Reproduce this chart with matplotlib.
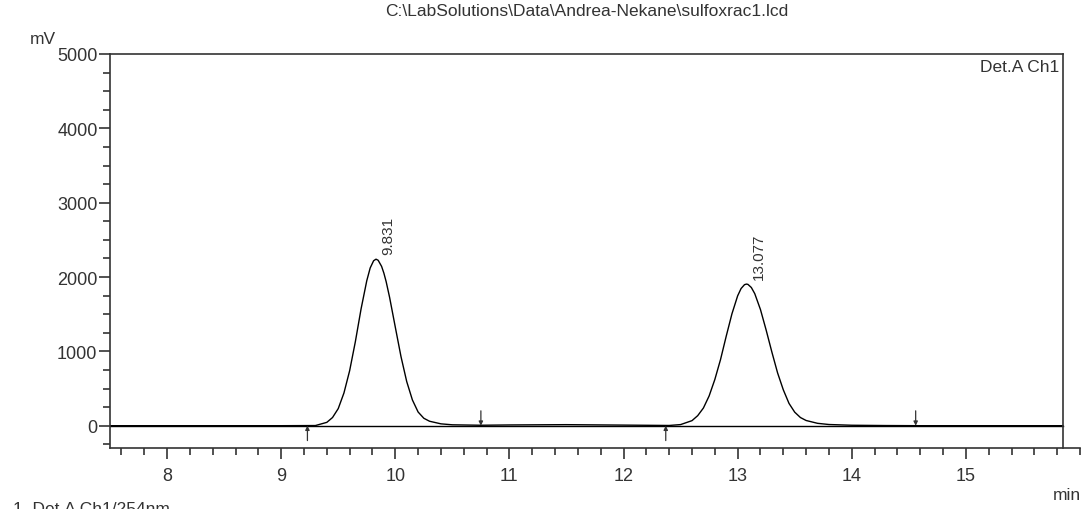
import matplotlib
matplotlib.use("Agg")
import matplotlib.pyplot as plt
from matplotlib.ticker import MultipleLocator

plt.rcParams['font.family'] = ['Liberation Sans', 'DejaVu Sans']

# Chromatogram trace (time in min, signal in mV)
time_min = [7.50, 9.00, 9.30, 9.40, 9.45, 9.50, 9.55, 9.60, 9.65, 9.70, 9.75, 9.78, 9.81,
            9.831, 9.85, 9.88, 9.90, 9.92, 9.95, 10.00, 10.05, 10.10, 10.15, 10.20, 10.25,
            10.30, 10.40, 10.50, 10.75, 11.00, 11.50, 12.00, 12.40, 12.50, 12.60, 12.65,
            12.70, 12.75, 12.80, 12.85, 12.90, 12.95, 13.00, 13.03, 13.06, 13.077, 13.09,
            13.12, 13.15, 13.20, 13.25, 13.30, 13.35, 13.40, 13.45, 13.50, 13.55, 13.60,
            13.70, 13.80, 14.00, 14.30, 14.60, 15.85]
signal_mv = [0, 0, 2, 45, 110, 230, 440, 740, 1130, 1570, 1950, 2122, 2219,
             2240, 2225, 2143, 2052, 1937, 1727, 1326, 929, 594, 346, 184, 100,
             60, 25, 12, 6, 10, 14, 8, 3, 15, 68, 135,
             238, 400, 621, 890, 1205, 1505, 1747, 1845, 1897, 1905, 1901,
             1859, 1776, 1562, 1285, 990, 710, 483, 300, 182, 110, 70,
             32, 16, 6, 2, 0, 0]

peak_times = [9.831, 13.077]
peak_heights = [2240, 1905]
peak_labels = ["9.831", "13.077"]

start_marks = [9.23, 12.37]   # integration start (up arrows)
end_marks = [10.75, 14.56]    # integration end (down arrows)

title = r"C:\LabSolutions\Data\Andrea-Nekane\sulfoxrac1.lcd"

fig = plt.figure(figsize=(10.87, 5.10), dpi=100)
ax = fig.add_axes([110/1087, 1-449/510, (1080-110)/1087, (449-55)/510])

X_END = 15.85
ax.set_xlim(7.5, 16.0)
ax.set_ylim(-300, 5000)

ax.plot(time_min, signal_mv, color='black', lw=1.0)
ax.plot([7.5, X_END], [0, 0], color='black', lw=1.0)

# frame: top and right border end at X_END, the time axis runs on
for s in ['top', 'right']:
    ax.spines[s].set_visible(False)
ax.plot([7.5, X_END], [5000, 5000], color='#333333', lw=1.2, clip_on=False)
ax.plot([X_END, X_END], [-300, 5000], color='#333333', lw=1.2, clip_on=False)
ax.spines['left'].set_color('#333333')
ax.spines['bottom'].set_color('#333333')
ax.spines['left'].set_linewidth(1.2)
ax.spines['bottom'].set_linewidth(1.2)

ax.xaxis.set_major_locator(MultipleLocator(1))
ax.xaxis.set_minor_locator(MultipleLocator(0.2))
ax.yaxis.set_major_locator(MultipleLocator(1000))
ax.yaxis.set_minor_locator(MultipleLocator(250))
ax.tick_params(which='major', length=8, width=1.2, color='#333333', labelsize=13,
               labelcolor='#333333')
ax.tick_params(which='minor', length=5, width=1.2, color='#333333')
ax.set_xticks([8, 9, 10, 11, 12, 13, 14, 15])
ax.set_xticklabels(['8', '9', '10', '11', '12', '13', '14', '15'])
ax.tick_params(axis='x', pad=6)
ax.tick_params(axis='y', pad=1)

for t, h, lab in zip(peak_times, peak_heights, peak_labels):
    ax.text(t + 0.045, h + 70, lab, rotation=90, ha='left', va='bottom',
            fontsize=11, color='#333333')

for t in start_marks:
    ax.annotate('', xy=(t, 0), xytext=(t, -200),
                arrowprops=dict(arrowstyle='-|>', lw=0.9, color='#333333',
                                mutation_scale=6, shrinkA=0, shrinkB=0))
for t in end_marks:
    ax.annotate('', xy=(t, 0), xytext=(t, 200),
                arrowprops=dict(arrowstyle='-|>', lw=0.9, color='#333333',
                                mutation_scale=6, shrinkA=0, shrinkB=0))

fig.text(587/1087, 1-12/510, title, ha='center', va='center', fontsize=12.5,
         color='#333333')
fig.text(30/1087, 1-40/510, 'mV', ha='left', va='center', fontsize=12.5, color='#333333')
fig.text(1081/1087, 1-496/510, 'min', ha='right', va='center', fontsize=12.5,
         color='#333333')
ax.text(X_END - 0.03, 4930, 'Det.A Ch1', ha='right', va='top', fontsize=12.5,
        color='#333333')
fig.text(13/1087, 1-502/510, '1  Det.A Ch1/254nm', ha='left', va='top', fontsize=12.5,
         color='#333333')

fig.savefig('out.png', dpi=100)
